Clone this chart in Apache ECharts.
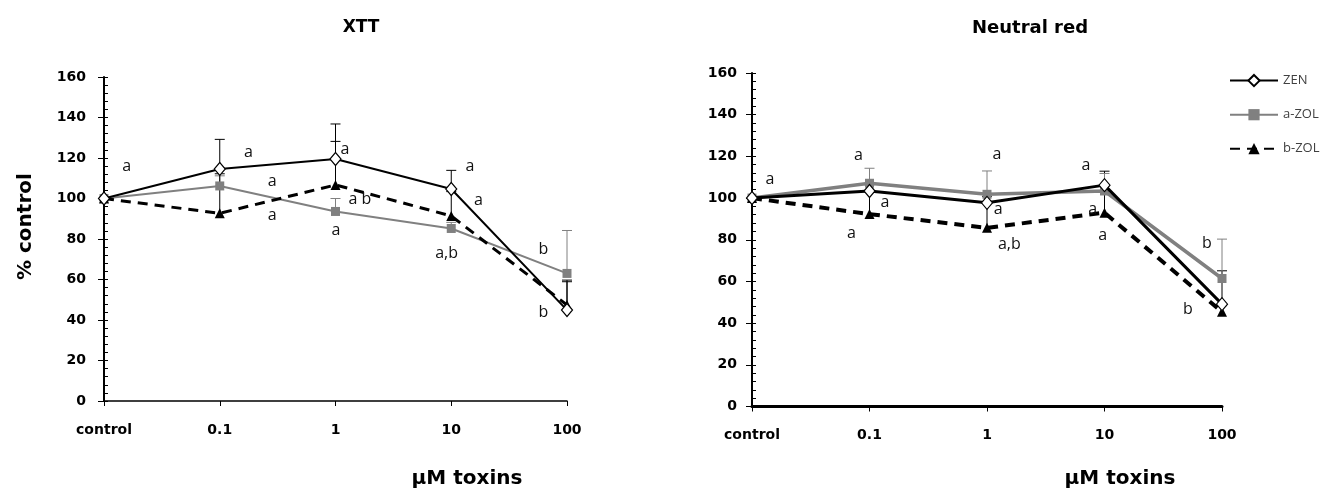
<!DOCTYPE html>
<html><head><meta charset="utf-8">
<script src="https://cdn.jsdelivr.net/npm/echarts@6/dist/echarts.min.js"></script>
<style>html,body{margin:0;padding:0;background:#fff}#c{width:1327px;height:495px}</style>
</head><body><div id="c"></div>
<script>
const categories = ['control','0.1','1','10','100'];
const seriesNames = ['ZEN','a-ZOL','b-ZOL'];
const yTicks = [0,20,40,60,80,100,120,140,160];

// XTT panel
const xttZEN  = [100, 114.6, 119.5, 104.7, 44.9];
const xttAZOL = [100, 106.2, 93.6, 85.2, 63.0];
const xttBZOL = [100, 92.7, 106.7, 91.4, 47.4];
const xttZENerr  = [0, 14.6, 17.3, 9.2, 14.8];
const xttAZOLerr = [0, 5, 6.4, 3, 21.2];
const xttBZOLerr = [0, 19.5, 21.5, 12, 11.5];
const xttLetters = [
  [0.196,115.6,'a'],[1.247,122.6,'a'],[1.454,108.3,'a'],[1.454,91.4,'a'],
  [2.082,124.3,'a'],[2.21,99.3,'a b'],[2.004,84.1,'a'],[3.162,115.7,'a'],
  [3.234,98.9,'a'],[2.96,72.9,'a,b'],[3.795,74.6,'b'],[3.795,43.6,'b']
];

// Neutral red panel
const nrZEN  = [100, 103.4, 97.7, 106.2, 49.1];
const nrAZOL = [100, 107.1, 101.8, 103.4, 61.4];
const nrBZOL = [100, 92.3, 85.7, 93.0, 45.4];
const nrZENerr  = [0, 3, 3, 6.7, 16];
const nrAZOLerr = [0, 7.2, 11.2, 8.4, 18.9];
const nrBZOLerr = [0, 11, 12, 10, 3];
const nrLetters = [
  [0.153,109.1,'a'],[0.905,120.3,'a'],[1.132,97.7,'a'],[0.846,83.0,'a'],
  [2.085,120.8,'a'],[2.096,94.6,'a'],[2.19,77.9,'a,b'],[2.843,115.5,'a'],
  [2.9,94.7,'a'],[2.985,82.2,'a'],[3.872,78.2,'b'],[3.71,46.7,'b']
];

const BOLD = '"DejaVu Sans", sans-serif';
const REG = '"Open Sans", sans-serif';
const chart = echarts.init(document.getElementById('c'), null, {renderer:'canvas'});

function xAxisFor(gi, lw){
  return {
    type:'value', gridIndex:gi, min:0, max:categories.length-1, interval:1,
    axisLine:{show:true, lineStyle:{color:'#000', width:lw}},
    axisTick:{show:true, length:5, lineStyle:{color:'#000', width:1}},
    splitLine:{show:false},
    axisLabel:{formatter:v=>categories[v] ?? '', color:'#000', fontFamily:BOLD, fontWeight:'bold', fontSize:14, margin:22}
  };
}
function yAxesFor(gi, margin){
  return [{
    type:'value', gridIndex:gi, position:'left', min:yTicks[0], max:yTicks[yTicks.length-1], interval:yTicks[1]-yTicks[0],
    axisLine:{show:true, lineStyle:{color:'#000', width:2}},
    axisTick:{show:true, length:6, lineStyle:{color:'#000', width:1}},
    splitLine:{show:false},
    axisLabel:{color:'#000', fontFamily:BOLD, fontWeight:'bold', fontSize:14, margin:margin}
  },{
    type:'value', gridIndex:gi, position:'left', offset:0, min:yTicks[0], max:yTicks[yTicks.length-1], interval:4,
    axisLine:{show:false}, axisLabel:{show:false}, splitLine:{show:false},
    axisTick:{show:true, inside:true, length:4, lineStyle:{color:'#000', width:1}}
  }];
}

function lineSeries(gi, name, vals, style, w){
  const s = {
    name, type:'line', xAxisIndex:gi, yAxisIndex:gi*2,
    data: vals.map((v,i)=>[i,v]),
    z:5, animation:false
  };
  if(style==='zen'){
    Object.assign(s,{symbol:'diamond', symbolSize:[11,13], showAllSymbol:true,
      lineStyle:{color:'#000', width:w}, itemStyle:{color:'#fff', borderColor:'#000', borderWidth:1.2}, z:7});
  } else if(style==='a'){
    Object.assign(s,{symbol:'rect', symbolSize:9,
      lineStyle:{color:'#808080', width:w}, itemStyle:{color:'#808080'}, z:5});
  } else {
    Object.assign(s,{symbol:'triangle', symbolSize:10,
      lineStyle:{color:'#000', width:w, type:[10,7]}, itemStyle:{color:'#000'}, z:6});
  }
  return s;
}
function errSeries(gi, vals, errs, color){
  return {
    type:'custom', xAxisIndex:gi, yAxisIndex:gi*2, z:3, silent:true, animation:false,
    data: vals.map((v,i)=>[i, v, v+errs[i]]),
    renderItem:(params, api)=>{
      if(api.value(2)-api.value(1) <= 0) return null;
      const lo = api.coord([api.value(0), api.value(1)]);
      const hi = api.coord([api.value(0), api.value(2)]);
      const st = {stroke:color, lineWidth:1};
      return {type:'group', children:[
        {type:'line', shape:{x1:lo[0],y1:lo[1],x2:hi[0],y2:hi[1]}, style:st},
        {type:'line', shape:{x1:hi[0]-5,y1:hi[1],x2:hi[0]+5,y2:hi[1]}, style:st}
      ]};
    }
  };
}
function letterSeries(gi, letters){
  return {
    type:'scatter', xAxisIndex:gi, yAxisIndex:gi*2, z:10, silent:true, animation:false,
    symbol:'circle', symbolSize:2, itemStyle:{color:'rgba(0,0,0,0)'},
    data: letters,
    label:{show:true, position:'inside', formatter:p=>p.data[2], color:'#111', opacity:1, fontFamily:REG, fontSize:16}
  };
}

const option = {
  backgroundColor:'#fff',
  animation:false,
  title:[
    {text:'XTT', left:356, top:14, textAlign:'center', textStyle:{fontFamily:BOLD, fontWeight:'bold', fontSize:17, color:'#000'}},
    {text:'Neutral red', left:1025, top:14, textAlign:'center', textStyle:{fontFamily:BOLD, fontWeight:'bold', fontSize:18, color:'#000'}},
    {text:'\u00b5M toxins', left:462, top:464, textAlign:'center', textStyle:{fontFamily:BOLD, fontWeight:'bold', fontSize:20, color:'#000'}},
    {text:'\u00b5M toxins', left:1115, top:464, textAlign:'center', textStyle:{fontFamily:BOLD, fontWeight:'bold', fontSize:20, color:'#000'}}
  ],
  graphic:[
    {type:'text', x:16, y:280, rotation:Math.PI/2,
      style:{text:'% control', fontFamily:BOLD, fontWeight:'bold', fontSize:20, fill:'#000'}}
  ],
  legend:{
    orient:'vertical', left:1224, top:69, itemWidth:48, itemHeight:14, itemGap:21,
    data:seriesNames,
    textStyle:{fontFamily:REG, fontSize:13, color:'#404040'}
  },
  grid:[
    {left:104, top:77, width:463, height:324, containLabel:false},
    {left:752, top:73, width:470, height:333.5, containLabel:false}
  ],
  xAxis:[xAxisFor(0,1.5), xAxisFor(1,3)],
  yAxis:[...yAxesFor(0,18), ...yAxesFor(1,15)],
  series:[
    errSeries(0, xttZEN, xttZENerr, '#000'),
    errSeries(0, xttAZOL, xttAZOLerr, '#808080'),
    errSeries(0, xttBZOL, xttBZOLerr, '#000'),
    lineSeries(0, 'ZEN', xttZEN, 'zen', 2),
    lineSeries(0, 'a-ZOL', xttAZOL, 'a', 2),
    lineSeries(0, 'b-ZOL', xttBZOL, 'b', 3),
    letterSeries(0, xttLetters),
    errSeries(1, nrZEN, nrZENerr, '#000'),
    errSeries(1, nrAZOL, nrAZOLerr, '#808080'),
    errSeries(1, nrBZOL, nrBZOLerr, '#000'),
    lineSeries(1, 'ZEN', nrZEN, 'zen', 3),
    lineSeries(1, 'a-ZOL', nrAZOL, 'a', 3.5),
    lineSeries(1, 'b-ZOL', nrBZOL, 'b', 4),
    letterSeries(1, nrLetters)
  ]
};
chart.setOption(option);
</script></body></html>
